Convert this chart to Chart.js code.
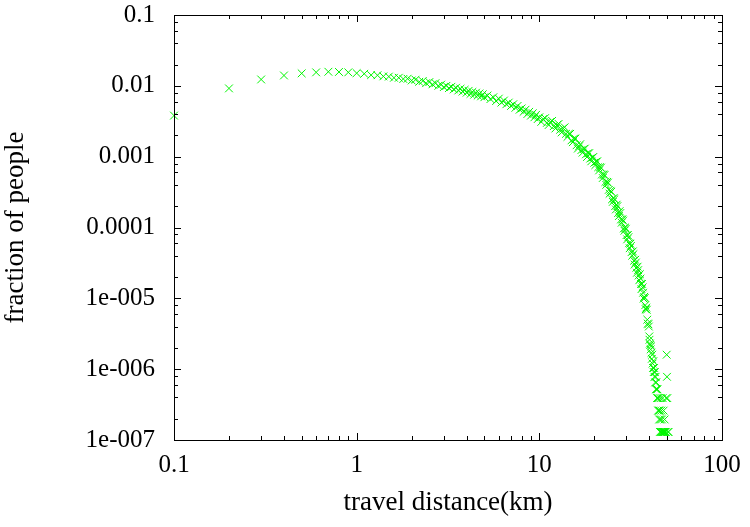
<!DOCTYPE html>
<html>
<head>
<meta charset="utf-8">
<script src="https://cdn.jsdelivr.net/npm/chart.js@4.4.0/dist/chart.umd.min.js"></script>
<style>
  html, body { margin: 0; padding: 0; background: #fff; }
</style>
</head>
<body>
<canvas id="dist_chart" width="750" height="527"></canvas>
<script>
// travel distance (km) and fraction of people
var distKm = [
    0.1, 0.2, 0.3, 0.4, 0.5, 0.6, 0.7, 0.8, 0.9, 1.0,
    1.1, 1.2, 1.3, 1.4, 1.5, 1.6, 1.7, 1.8, 1.9, 2.0,
    2.1, 2.2, 2.3, 2.4, 2.5, 2.6, 2.7, 2.8, 2.9, 3.0,
    3.1, 3.2, 3.3, 3.4, 3.5, 3.6, 3.7, 3.8, 3.9, 4.0,
    4.1, 4.2, 4.3, 4.4, 4.5, 4.6, 4.7, 4.8, 4.9, 5.0,
    5.2, 5.4, 5.6, 5.8, 6.0, 6.2, 6.4, 6.6, 6.8, 7.0,
    7.2, 7.4, 7.6, 7.8, 8.0, 8.2, 8.4, 8.6, 8.8, 9.0,
    9.2, 9.4, 9.6, 9.8, 10.0,
    10.5, 11.0, 11.5, 12.0, 12.5, 13.0, 13.5, 14.0, 14.5, 15.0,
    15.5, 16.0, 16.5, 17.0, 17.5, 18.0, 18.5, 19.0, 19.5, 20.0,
    20.5, 21.0, 21.5, 22.0, 22.5, 23.0, 23.5, 24.0, 24.5, 25.0,
    25.5, 26.0, 26.5, 27.0, 27.5, 28.0, 28.5, 29.0, 29.5, 30.0,
    30.5, 31.0, 31.5, 32.0, 32.5, 33.0, 33.5, 34.0, 34.5, 35.0,
    35.5, 36.0, 36.5, 37.0, 37.5, 38.0, 38.5, 39.0, 39.5, 40.0
];
var fraction = [
    0.0038, 0.0092, 0.0123, 0.0140, 0.0150, 0.0155, 0.0158, 0.0157, 0.0155, 0.0151,
    0.0148, 0.0142, 0.0141, 0.0136, 0.0135, 0.0130, 0.0130, 0.0125, 0.0126, 0.0119,
    0.0122, 0.0114, 0.0117, 0.0109, 0.0113, 0.0105, 0.0109, 0.0100, 0.0104, 0.0096,
    0.0100, 0.0093, 0.0097, 0.0089, 0.0094, 0.0086, 0.0091, 0.0083, 0.0088, 0.0080,
    0.0085, 0.0077, 0.0082, 0.0075, 0.0080, 0.0073, 0.0078, 0.0071, 0.0076, 0.0069,
    0.0073, 0.0065, 0.0069, 0.0061, 0.0066, 0.0058, 0.0062, 0.0055, 0.0058, 0.0052,
    0.0055, 0.0049, 0.0052, 0.0046, 0.0048, 0.0043, 0.0046, 0.0040, 0.0043, 0.0038,
    0.0041, 0.0036, 0.0039, 0.0034, 0.0036,
    0.0034, 0.0030, 0.0031, 0.0027, 0.0028, 0.0024, 0.0025, 0.0021, 0.0021, 0.0017,
    0.0018, 0.00145, 0.00140, 0.00124, 0.00128, 0.00108, 0.00112, 0.00094, 0.00097, 0.00082,
    0.00085, 0.00071, 0.00071, 0.00056, 0.00056, 0.00044, 0.00044, 0.00034, 0.00033, 0.00025,
    0.00026, 0.00020, 0.00021, 0.00016, 0.00017, 0.00013, 0.000130, 0.000097, 0.000100, 0.000078,
    0.000078, 0.000060, 0.000059, 0.000045, 0.000046, 0.000034, 0.000035, 0.000027, 0.000028, 0.000021,
    0.000022, 0.000016, 0.000016, 0.000012, 0.0000105, 0.0000080, 0.0000074, 0.0000050, 0.0000043, 0.0000029
];
// in-between readings that fill out the thick band from 10 to 40 km
var bandKm = [
    10.25, 10.75, 11.25, 11.75, 12.25, 12.75, 13.25, 13.75, 14.25, 14.75,
    15.25, 15.75, 16.25, 16.75, 17.25, 17.75, 18.25, 18.75, 19.25, 19.75,
    20.25, 20.75, 21.25, 21.75, 22.25, 22.75, 23.25, 23.75, 24.25, 24.75,
    25.25, 25.75, 26.25, 26.75, 27.25, 27.75, 28.25, 28.75, 29.25, 29.75,
    30.25, 30.75, 31.25, 31.75, 32.25, 32.75, 33.25, 33.75, 34.25, 34.75,
    35.25, 35.75, 36.25, 36.75, 37.25, 37.75, 38.25, 38.75, 39.25, 39.75
];
var bandFraction = [
    0.0031, 0.0035, 0.0028, 0.0032, 0.0025, 0.0029, 0.0022, 0.0026, 0.0019, 0.0021,
    0.0016, 0.0018, 0.0013, 0.0015, 0.00114, 0.0013, 0.00099, 0.00112, 0.00086, 0.00099,
    0.00076, 0.00086, 0.00064, 0.00070, 0.00050, 0.00055, 0.00040, 0.00043, 0.00030, 0.00032,
    0.00023, 0.00025, 0.00018, 0.00020, 0.000145, 0.00016, 0.000117, 0.000125, 0.000090, 0.000096,
    0.000068, 0.000073, 0.000051, 0.000055, 0.000040, 0.000042, 0.000030, 0.000032, 0.000023, 0.000025,
    0.000018, 0.000019, 0.0000135, 0.0000143, 0.0000099, 0.0000101, 0.0000070, 0.0000069, 0.0000044, 0.0000040
];
// the noisy tail past 40 km
var tailKm = [
    40.1, 40.3, 40.5, 40.7, 40.9, 41.1, 41.3, 41.5, 41.7, 41.9,
    42.1, 42.3, 42.5, 42.7, 42.9, 43.1, 43.3, 43.5, 43.7, 43.9,
    44.1, 44.3, 44.5, 44.7, 44.9, 45.1, 45.3, 45.5, 45.7, 45.9,
    46.1, 46.3, 46.5, 46.7, 46.9, 47.1, 47.3, 47.5, 47.7, 47.9,
    48.1, 48.3, 48.5, 48.7, 48.9, 49.2, 49.5, 49.8, 50.0, 50.2,
    50.5, 51.0
];
var tailFraction = [
    2.6e-6, 2.3e-6, 2.2e-6, 1.9e-6, 2.1e-6, 1.7e-6, 1.4e-6, 1.6e-6, 1.2e-6, 1.04e-6,
    1.3e-6, 9.1e-7, 1.04e-6, 7.8e-7, 9.1e-7, 6.5e-7, 7.8e-7, 5.2e-7, 6.5e-7, 5.2e-7,
    3.9e-7, 5.2e-7, 3.9e-7, 2.6e-7, 3.9e-7, 2.6e-7, 1.95e-7, 2.6e-7, 1.3e-7, 1.95e-7,
    3.9e-7, 1.3e-7, 2.6e-7, 1.3e-7, 1.95e-7, 1.3e-7, 3.9e-7, 1.3e-7, 1.3e-7, 2.6e-7,
    1.3e-7, 1.3e-7, 1.95e-7, 1.3e-7, 1.3e-7, 1.3e-7, 3.9e-7, 1.6e-6, 7.8e-7, 3.9e-7,
    1.3e-7, 1.3e-7
];

var xTickValues = [0.1, 1, 10, 100];
var xTickLabels = ['0.1', '1', '10', '100'];
var yTickValues = [1e-7, 1e-6, 1e-5, 1e-4, 1e-3, 1e-2, 1e-1];
var yTickLabels = ['1e-007', '1e-006', '1e-005', '0.0001', '0.001', '0.01', '0.1'];

var points = [];
function addPoints(xs, ys) {
    for (var i = 0; i < xs.length; i++) points.push({ x: xs[i], y: ys[i] });
}
addPoints(distKm, fraction);
addPoints(bandKm, bandFraction);
addPoints(tailKm, tailFraction);

var serif = "'Liberation Serif', 'DejaVu Serif', serif";

// gnuplot style box with inward tics on all four sides
var frameTics = {
    id: 'frameTics',
    afterDatasetsDraw: function (chart) {
        var ctx = chart.ctx, a = chart.chartArea;
        var xs = chart.scales.x, ys = chart.scales.y;
        var d, m, v, p, len;
        ctx.save();
        ctx.strokeStyle = '#000';
        ctx.lineWidth = 1;
        ctx.beginPath();
        for (d = -1; d <= 2; d++) {
            for (m = 1; m <= 9; m++) {
                v = m * Math.pow(10, d);
                if (v > 100) break;
                p = Math.round(xs.getPixelForValue(v)) + 0.5;
                len = m === 1 ? 7 : 4;
                ctx.moveTo(p, a.bottom); ctx.lineTo(p, a.bottom - len);
                ctx.moveTo(p, a.top); ctx.lineTo(p, a.top + len);
            }
        }
        var yMinor = [1, 2, 4, 6, 8];
        for (d = -7; d <= -1; d++) {
            for (m = 0; m < yMinor.length; m++) {
                v = yMinor[m] * Math.pow(10, d);
                if (v > 0.1) break;
                p = Math.round(ys.getPixelForValue(v)) + 0.5;
                len = yMinor[m] === 1 ? 7 : 4;
                ctx.moveTo(a.left, p); ctx.lineTo(a.left + len, p);
                ctx.moveTo(a.right, p); ctx.lineTo(a.right - len, p);
            }
        }
        ctx.stroke();
        ctx.strokeRect(Math.round(a.left) + 0.5, Math.round(a.top) + 0.5,
            Math.round(a.right - a.left), Math.round(a.bottom - a.top));
        ctx.restore();
    }
};

new Chart(document.getElementById('dist_chart').getContext('2d'), {
    type: 'scatter',
    data: {
        datasets: [{
            data: points,
            pointStyle: 'crossRot',
            pointRadius: 5.5,
            pointBorderWidth: 1,
            borderColor: 'rgb(0, 245, 0)',
            backgroundColor: 'rgb(0, 245, 0)',
            clip: false
        }]
    },
    options: {
        responsive: false,
        animation: false,
        events: [],
        layout: { padding: { left: 0, right: 28, top: 15, bottom: 0 } },
        plugins: { legend: { display: false }, tooltip: { enabled: false } },
        scales: {
            x: {
                type: 'logarithmic',
                position: 'bottom',
                min: 0.1,
                max: 100,
                grid: { display: false, drawTicks: false },
                border: { display: false },
                afterBuildTicks: function (scale) {
                    scale.ticks = xTickValues.map(function (v) { return { value: v }; });
                },
                ticks: {
                    autoSkip: false,
                    maxRotation: 0,
                    padding: 10,
                    color: '#000',
                    font: { family: serif, size: 25 },
                    callback: function (value, index) { return xTickLabels[index]; }
                },
                title: {
                    display: true,
                    text: 'travel distance(km)',
                    color: '#000',
                    font: { family: serif, size: 27 },
                    padding: { top: 0, bottom: 8 }
                },
                afterFit: function (scale) {
                    scale.height = 87;
                    scale.paddingLeft = 0;
                    scale.paddingRight = 0;
                }
            },
            y: {
                type: 'logarithmic',
                position: 'left',
                min: 1e-7,
                max: 0.1,
                grid: { display: false, drawTicks: false },
                border: { display: false },
                afterBuildTicks: function (scale) {
                    scale.ticks = yTickValues.map(function (v) { return { value: v }; });
                },
                ticks: {
                    autoSkip: false,
                    padding: 19,
                    color: '#000',
                    font: { family: serif, size: 25 },
                    callback: function (value, index) { return yTickLabels[index]; }
                },
                title: {
                    display: true,
                    text: 'fraction of people',
                    color: '#000',
                    font: { family: serif, size: 27 },
                    padding: 0
                },
                afterFit: function (scale) {
                    scale.width = 174;
                    scale.paddingTop = 0;
                    scale.paddingBottom = 0;
                }
            }
        }
    },
    plugins: [frameTics]
});
</script>
</body>
</html>
